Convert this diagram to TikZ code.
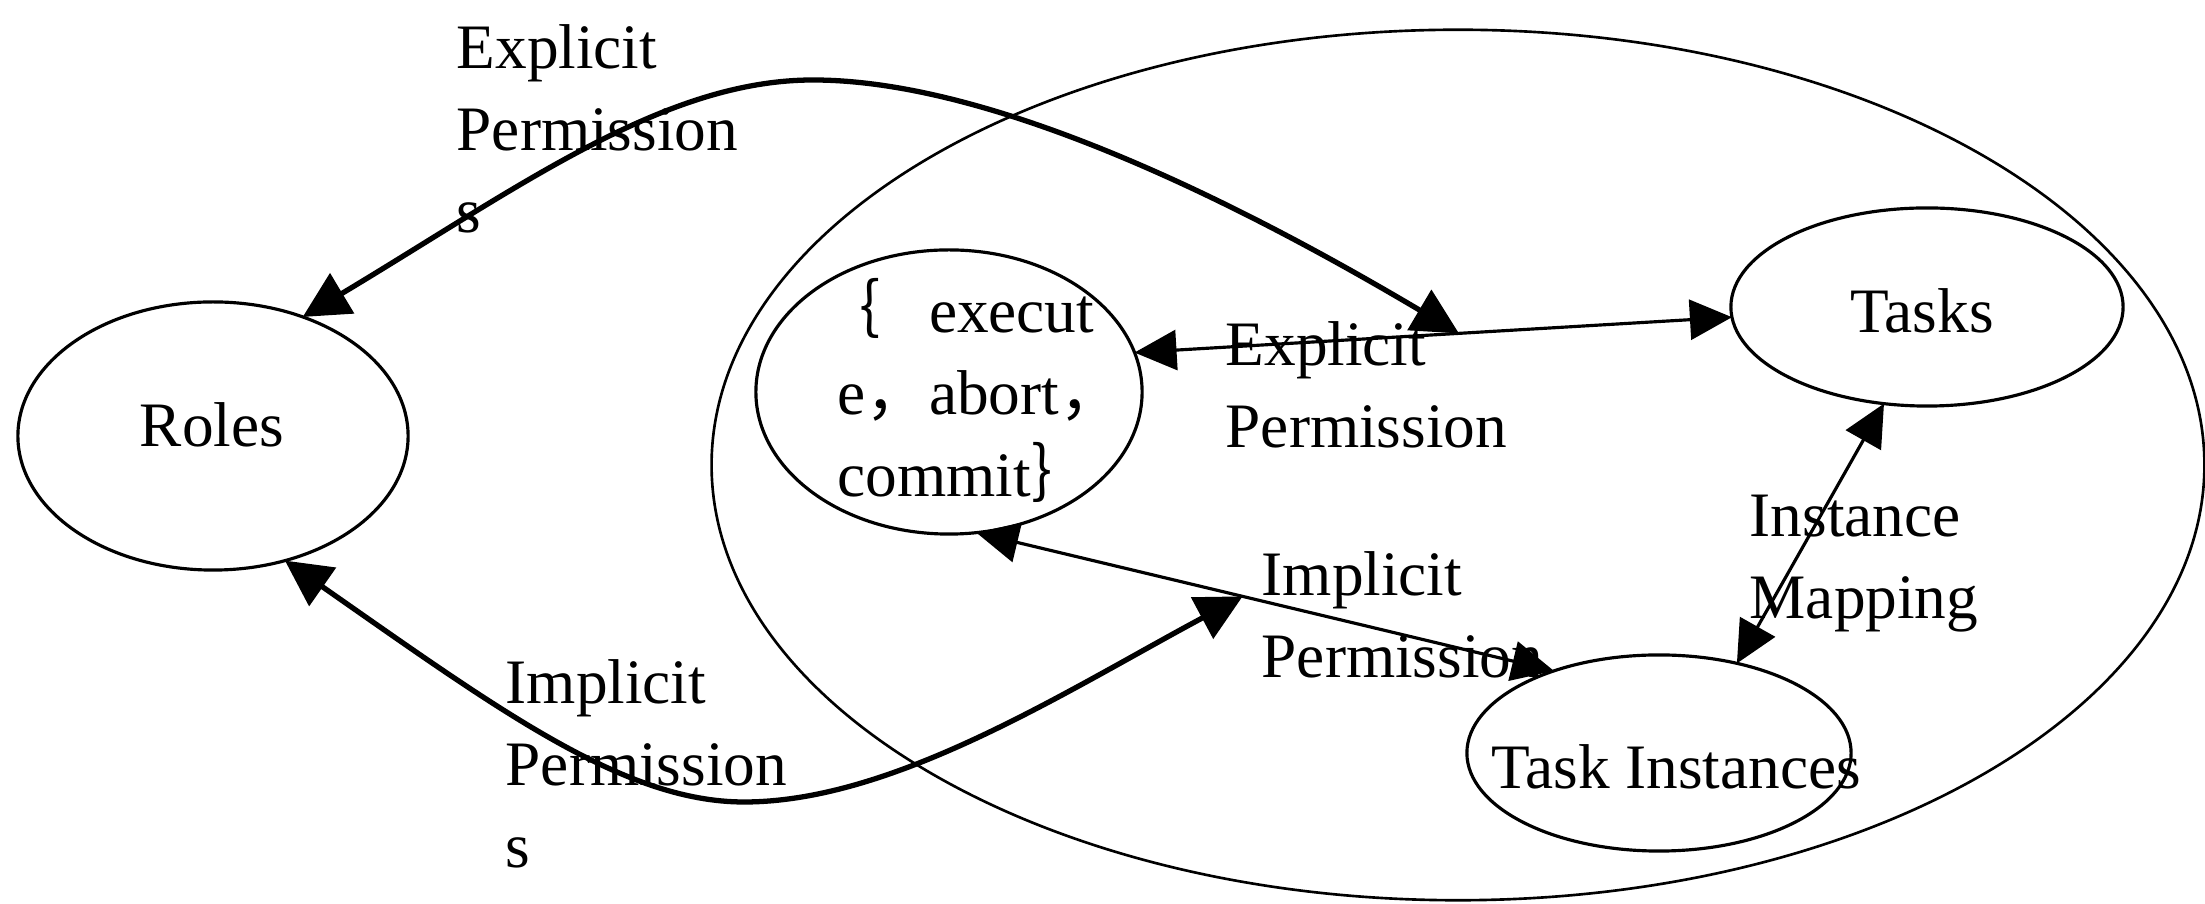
\documentclass[tikz,border=0pt]{standalone}
\usepackage{fontspec}
\setmainfont{Liberation Serif}
\newfontfamily\cjk{Noto Sans CJK SC}
\usetikzlibrary{arrows.meta,shapes.geometric}
% left-aligned multi-line label whose baseline is that of its first line
\newcommand\labelstack[1]{\begin{tabular}[t]{@{}l@{}}#1\end{tabular}}

\begin{document}
\begin{tikzpicture}[x=0.01cm, y=-0.01cm,
  ell/.style={draw, ellipse, line width=0.9pt, inner sep=0pt, outer sep=0pt},
  txt/.style={inner sep=0pt, font=\fontsize{18}{23.3}\selectfont},
  lbl/.style={txt, anchor=base west},
  conn/.style={line width=0.9pt,
    {Triangle[length=0.42cm,width=0.40cm]}-{Triangle[length=0.42cm,width=0.40cm]}},
  perm/.style={line width=1.5pt,
    {Triangle[length=0.46cm,width=0.46cm]}-{Triangle[length=0.46cm,width=0.46cm]}}
]
\useasboundingbox (0,0) rectangle (2205,904);

% task domain
\node[ell, line width=0.75pt, minimum width=14.92cm, minimum height=8.70cm] (domain) at (1458,465) {};

% entities
\node[ell, minimum width=3.90cm, minimum height=2.68cm] (roles) at (213,436) {};
\node[ell, minimum width=3.86cm, minimum height=2.84cm] (exec)  at (949,392) {};
\node[ell, minimum width=3.92cm, minimum height=1.98cm] (tasks) at (1927,307) {};
\node[ell, minimum width=3.84cm, minimum height=1.96cm] (inst)  at (1659,753) {};

\node[txt, anchor=base] (roles-t) at (212,447) {Roles};
\node[txt, anchor=base] (tasks-t) at (1922,333) {Tasks};
\node[txt, anchor=base] (inst-t)  at (1676,789) {Task Instances};
\node[lbl] (exec-t) at (837,333)
  {\labelstack{\hspace{-0.2cm}{\cjk ｛}\hspace{0.48cm}execut\\e{\cjk ，}abort{\cjk ，}\\commit{\cjk ｝}}};

% connector labels
\node[lbl] (ep-roles) at (456,69)   {\labelstack{Explicit\\Permission\\s}};
\node[lbl] (ep-tasks) at (1225,366) {\labelstack{Explicit\\Permission}};
\node[lbl] (ip-inst)  at (1261,596) {\labelstack{Implicit\\Permission}};
\node[lbl] (ip-roles) at (505,704)  {\labelstack{Implicit\\Permission\\s}};
\node[lbl] (im)       at (1749,537) {\labelstack{Instance\\Mapping}};

% connectors
\draw[conn] (exec.12) -- coordinate[pos=0.543] (ep) (tasks.183);
\draw[conn] (exec.-79) -- coordinate[pos=0.461] (ip) (inst.142);
\draw[conn] (tasks.-114) -- (inst.49);

\draw[perm] (roles.53) .. controls (518,188) and (663,80) .. (813,80)
  .. controls (1013,80) and (1286,231) .. (ep);
\draw[perm] (roles.-60) .. controls (499,710) and (624,802) .. (744,802)
  .. controls (894,802) and (1066,691) .. (ip);
\end{tikzpicture}
\end{document}
